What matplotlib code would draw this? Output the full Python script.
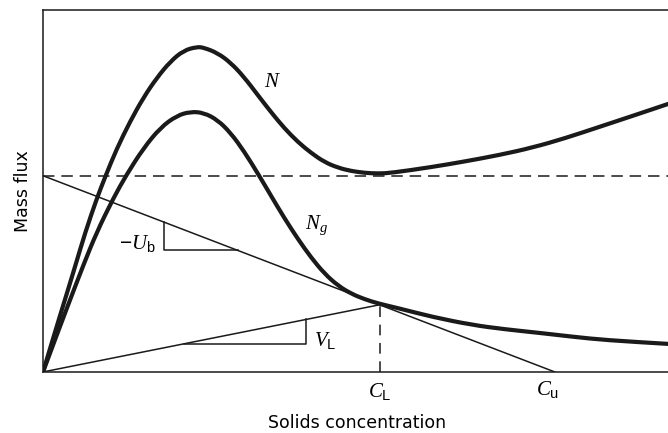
import matplotlib.pyplot as plt
from matplotlib.path import Path
from matplotlib.patches import PathPatch

plt.rcParams['font.family'] = ['DejaVu Sans']
# italic serif symbols with upright sans subscripts
plt.rcParams['mathtext.fontset'] = 'custom'
plt.rcParams['mathtext.it'] = 'Liberation Serif:italic'
plt.rcParams['mathtext.rm'] = 'Liberation Sans'
plt.rcParams['mathtext.sf'] = 'Liberation Sans'

# total flux curve N (arbitrary units)
n_conc = [0.0, 0.19, 0.35, 0.51, 0.67, 0.85, 0.99, 1.17, 1.39, 1.60, 1.81,
          2.03, 2.24, 2.45, 2.56, 2.78, 2.99, 3.20, 3.42, 3.63, 3.84, 4.06,
          4.27, 4.48, 4.70, 4.91, 5.12, 5.34, 5.55, 6.19, 6.70, 7.26, 7.80,
          8.32, 8.86, 9.40, 10.0]
n_flux = [0.0, 1.10, 2.00, 2.91, 3.84, 4.76, 5.39, 6.15, 6.93, 7.58, 8.12,
          8.58, 8.88, 8.98, 8.96, 8.81, 8.54, 8.15, 7.65, 7.18, 6.74, 6.35,
          6.05, 5.80, 5.64, 5.55, 5.50, 5.48, 5.50, 5.66, 5.81, 5.99, 6.20,
          6.46, 6.77, 7.08, 7.43]

# gravity flux curve Ng
ng_conc = [0.0, 0.24, 0.45, 0.64, 0.85, 1.12, 1.33, 1.60, 1.87, 2.13, 2.35,
           2.56, 2.78, 2.99, 3.20, 3.44, 3.63, 3.84, 4.06, 4.27, 4.48, 4.70,
           4.91, 5.12, 5.34, 5.66, 6.20, 6.83, 7.35, 7.90, 8.45, 8.96, 10.0]
ng_flux = [0.0, 1.12, 2.08, 2.94, 3.84, 4.80, 5.45, 6.18, 6.75, 7.08, 7.19,
           7.16, 6.96, 6.60, 6.10, 5.43, 4.87, 4.26, 3.67, 3.16, 2.72, 2.38,
           2.16, 2.01, 1.89, 1.76, 1.52, 1.30, 1.18, 1.08, 0.97, 0.88, 0.77]

feed_flux = 5.42     # design flux (dashed line / underflow line intercept)
c_under = 8.15       # underflow concentration Cu
c_limit = 5.36       # limiting concentration CL

flux_at_limit = feed_flux * (1 - c_limit / c_under)


def smooth_curve(xs, ys):
    # quadratic bezier through the midpoints, sample points as controls
    verts = [(xs[0], ys[0])]
    codes = [Path.MOVETO]
    for i in range(1, len(xs) - 1):
        mid = ((xs[i] + xs[i + 1]) / 2, (ys[i] + ys[i + 1]) / 2)
        verts += [(xs[i], ys[i]), mid]
        codes += [Path.CURVE3, Path.CURVE3]
    verts.append((xs[-1], ys[-1]))
    codes.append(Path.LINETO)
    return Path(verts, codes)


fig = plt.figure(figsize=(6.68, 4.33), dpi=100)
ax = fig.add_axes([0.0644, 0.141, 0.94, 0.836])
ax.set_xlim(0, 10)
ax.set_ylim(0, 10)

ink = '#1a1a1a'
thin = dict(color=ink, lw=1.1)

for xs, ys in [(n_conc, n_flux), (ng_conc, ng_flux)]:
    ax.add_patch(PathPatch(smooth_curve(xs, ys), fill=False, edgecolor=ink,
                           lw=3.0, capstyle='round', joinstyle='round'))

# operating lines
ax.axhline(feed_flux, ls=(0, (7.5, 4.5)), **thin)
ax.plot([0, c_under], [feed_flux, 0], **thin)
ax.plot([0, c_limit], [0, flux_at_limit], **thin)
ax.plot([c_limit, c_limit], [0, flux_at_limit], ls=(0, (7, 5)), **thin)

# slope triangles
ub_slope = -feed_flux / c_under
x0, x1 = 1.92, 3.10
ax.plot([x0, x0, x1], [feed_flux + ub_slope * x0, feed_flux + ub_slope * x1,
                       feed_flux + ub_slope * x1], **thin)
vl_slope = flux_at_limit / c_limit
x0, x1 = 2.25, 4.19
ax.plot([x0, x1, x1], [vl_slope * x0, vl_slope * x0, vl_slope * x1], **thin)

# labels
lab = dict(fontsize=15, ha='center', va='center')
ax.text(3.65, 8.04, r'$N$', **lab)
ax.text(4.35, 4.05, r'$N_g$', **lab)
ax.text(1.5, 3.55, r'$-U_\mathrm{b}$', **lab)
ax.text(4.5, 0.88, r'$V_\mathrm{L}$', **lab)
ax.text(c_limit, -0.55, r'$C_\mathrm{L}$', **lab)
ax.text(c_under - 0.12, -0.49, r'$C_\mathrm{u}$', **lab)

ax.set_xlabel('Solids concentration', fontsize=12.5, labelpad=30)
ax.set_ylabel('Mass flux', fontsize=12.5, labelpad=8)

ax.set_xticks([])
ax.set_yticks([])
ax.spines['right'].set_visible(False)
for s in ['left', 'top', 'bottom']:
    ax.spines[s].set_linewidth(1.1)
    ax.spines[s].set_color(ink)

fig.savefig('out.png', dpi=100)
